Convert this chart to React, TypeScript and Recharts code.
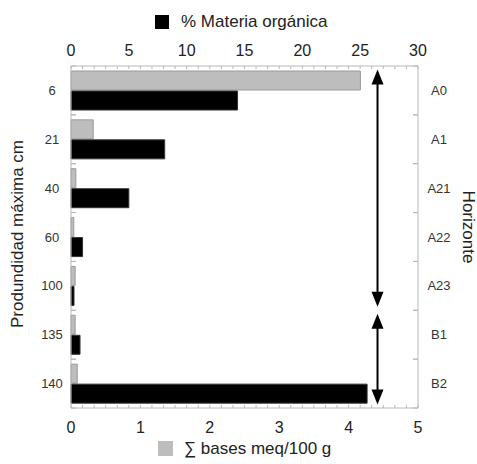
import React from "react";
import {
  BarChart,
  Bar,
  XAxis,
  YAxis,
  ReferenceLine,
} from "recharts";

// depth of each horizon (cm) and its name
const depths = ["6", "21", "40", "60", "100", "135", "140"];
const horizons = ["A0", "A1", "A21", "A22", "A23", "B1", "B2"];

// % materia orgánica (top axis, 0-30)
const organicMatter = [14.4, 8.1, 5.0, 1.0, 0.26, 0.78, 25.6];
// ∑ bases meq/100 g (bottom axis, 0-5)
const bases = [4.17, 0.32, 0.07, 0.04, 0.06, 0.06, 0.09];

const topTicks = [0, 5, 10, 15, 20, 25, 30];
const bottomTicks = [0, 1, 2, 3, 4, 5];

// arrows grouping horizons
const arrows = [
  { from: "6", to: "100" },
  { from: "135", to: "140" },
];

const data = depths.map((d, i) => ({
  depth: d,
  horizon: horizons[i],
  mo: organicMatter[i],
  bases: bases[i],
}));

const W = 477;
const H = 464;
const MARGIN = { top: 36, right: 0, bottom: 26, left: 0 };
const AXIS_H = 30;
const PLOT_H = H - MARGIN.top - MARGIN.bottom - 2 * AXIS_H;
const HALF_BAND = PLOT_H / depths.length / 2;
const FONT = "'Liberation Sans', Arial, Helvetica, sans-serif";
const FRAME = "#b8b8b8";

// minor ticks: every 1 unit on the top scale (= 1/6 on the bottom one)
const minorTop = Array.from({ length: 31 }, (_, i) => i);
const minorBottom = minorTop.map((t) => t / 6);

const TopTick = (props: any) => {
  const { x, y, payload } = props;
  const v = payload.value;
  const major = topTicks.includes(v);
  return (
    <g>
      <line x1={x} x2={x} y1={y} y2={y + 3} stroke={FRAME} />
      {major && (
        <text x={x} y={y - 10} textAnchor="middle" fontSize={16} fill="#222" fontFamily={FONT}>
          {v}
        </text>
      )}
    </g>
  );
};

const BottomTick = (props: any) => {
  const { x, y, payload } = props;
  const v = Math.round(payload.value * 6) / 6;
  const label = bottomTicks.find((t) => Math.abs(t - v) < 1e-6);
  return (
    <g>
      <line x1={x} x2={x} y1={y} y2={y - 3} stroke={FRAME} />
      {label !== undefined && (
        <text x={x} y={y + 25} textAnchor="middle" fontSize={16} fill="#222" fontFamily={FONT}>
          {label}
        </text>
      )}
    </g>
  );
};

const LeftTick = (props: any) => {
  const { x, y, payload } = props;
  return (
    <g>
      <text x={x - 19} y={y} dy="0.35em" textAnchor="middle" fontSize={13} fill="#333" fontFamily={FONT}>
        {payload.value}
      </text>
      <line x1={x} x2={x + 5} y1={y - HALF_BAND} y2={y - HALF_BAND} stroke={FRAME} />
      <line x1={x} x2={x + 5} y1={y + HALF_BAND} y2={y + HALF_BAND} stroke={FRAME} />
    </g>
  );
};

const RightTick = (props: any) => {
  const { x, y, payload } = props;
  return (
    <g>
      <text x={x + 21} y={y} dy="0.35em" textAnchor="middle" fontSize={13} fill="#333" fontFamily={FONT}>
        {payload.value}
      </text>
      <line x1={x - 5} x2={x} y1={y - HALF_BAND} y2={y - HALF_BAND} stroke={FRAME} />
      <line x1={x - 5} x2={x} y1={y + HALF_BAND} y2={y + HALF_BAND} stroke={FRAME} />
    </g>
  );
};

const EXT = 21;
const HEAD_H = 15;
const HEAD_W = 6;

const DoubleArrow = (props: any) => {
  const { x1, y1, y2 } = props;
  const top = Math.min(y1, y2) - EXT;
  const bottom = Math.max(y1, y2) + EXT;
  const x = x1;
  return (
    <g>
      <line x1={x} x2={x} y1={top + HEAD_H - 2} y2={bottom - HEAD_H + 2} stroke="#000" strokeWidth={2} />
      <polygon points={`${x},${top} ${x - HEAD_W},${top + HEAD_H} ${x + HEAD_W},${top + HEAD_H}`} fill="#000" />
      <polygon points={`${x},${bottom} ${x - HEAD_W},${bottom - HEAD_H} ${x + HEAD_W},${bottom - HEAD_H}`} fill="#000" />
    </g>
  );
};

const abs = (s: React.CSSProperties): React.CSSProperties => ({
  position: "absolute",
  fontFamily: FONT,
  color: "#222",
  whiteSpace: "nowrap",
  ...s,
});

export default function App() {
  return (
    <div style={{ position: "absolute", left: 0, top: 0, width: W, height: H, background: "#fff" }}>
      <BarChart
        width={W}
        height={H}
        data={data}
        layout="vertical"
        margin={MARGIN}
        barCategoryGap={5}
        barGap={1}
      >
        <XAxis
          xAxisId="top"
          orientation="top"
          type="number"
          domain={[0, 30]}
          ticks={minorTop}
          interval={0}
          height={AXIS_H}
          tickSize={0}
          tickMargin={0}
          tickLine={false}
          axisLine={{ stroke: FRAME }}
          tick={TopTick}
        />
        <XAxis
          xAxisId="bottom"
          orientation="bottom"
          type="number"
          domain={[0, 5]}
          ticks={minorBottom}
          interval={0}
          height={AXIS_H}
          tickSize={0}
          tickMargin={0}
          tickLine={false}
          axisLine={{ stroke: FRAME }}
          tick={BottomTick}
        />
        <YAxis
          yAxisId="left"
          type="category"
          dataKey="depth"
          width={71}
          interval={0}
          tickSize={0}
          tickMargin={0}
          tickLine={false}
          axisLine={{ stroke: FRAME }}
          tick={LeftTick}
        />
        <YAxis
          yAxisId="right"
          orientation="right"
          type="category"
          dataKey="horizon"
          width={59}
          interval={0}
          tickSize={0}
          tickMargin={0}
          tickLine={false}
          axisLine={{ stroke: FRAME }}
          tick={RightTick}
        />
        <Bar
          dataKey="bases"
          xAxisId="bottom"
          yAxisId="left"
          fill="#bdbdbd"
          stroke="#9a9a9a"
          strokeWidth={1}
          isAnimationActive={false}
        />
        <Bar
          dataKey="mo"
          xAxisId="top"
          yAxisId="left"
          fill="#000"
          stroke="#333"
          strokeWidth={1}
          isAnimationActive={false}
        />
        {arrows.map((a) => (
          <ReferenceLine
            key={a.from}
            xAxisId="top"
            yAxisId="left"
            segment={[
              { x: 26.5, y: a.from },
              { x: 26.5, y: a.to },
            ]}
            shape={DoubleArrow}
          />
        ))}
      </BarChart>

      {/* top legend */}
      <div style={abs({ left: 155, top: 15, width: 14, height: 14, background: "#000" })} />
      <div style={abs({ left: 181, top: 12, fontSize: 17, lineHeight: "20px" })}>% Materia orgánica</div>

      {/* bottom legend */}
      <div style={abs({ left: 158, top: 441, width: 15, height: 15, background: "#bdbdbd" })} />
      <div style={abs({ left: 184, top: 439, fontSize: 17, lineHeight: "20px" })}>∑ bases meq/100 g</div>

      {/* axis titles */}
      <div style={abs({ left: 18, top: 234, fontSize: 17, transform: "translate(-50%, -50%) rotate(-90deg)" })}>
        Produndidad máxima cm
      </div>
      <div style={abs({ left: 468, top: 227, fontSize: 17, transform: "translate(-50%, -50%) rotate(90deg)" })}>
        Horizonte
      </div>
    </div>
  );
}
